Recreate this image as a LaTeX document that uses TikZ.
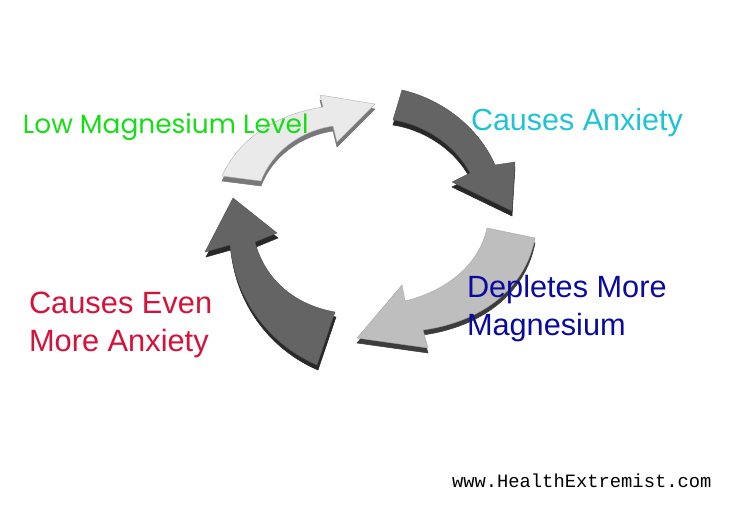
\documentclass[tikz,border=0pt]{standalone}
\usepackage{fontspec}
\setmainfont{Liberation Sans}
\newfontfamily\geofont{Poppins}
\newfontfamily\typefont{Liberation Mono}
\definecolor{lowgreen}{RGB}{22,222,22}
\definecolor{anxcyan}{RGB}{30,196,214}
\definecolor{depblue}{RGB}{10,10,160}
\definecolor{evenred}{RGB}{212,18,58}
\definecolor{lightface}{RGB}{234,234,234}
\definecolor{lightside}{RGB}{120,120,120}
\definecolor{midface}{RGB}{190,190,190}
\definecolor{midside}{RGB}{60,60,60}
\definecolor{darkface}{RGB}{100,100,100}
\definecolor{darkside}{RGB}{40,40,40}
\tikzset{
  lbl/.style={anchor=base west, inner sep=0pt, outer sep=0pt},
  sideL/.style={fill=lightside, draw=lightside, line width=0.5pt},
  faceL/.style={fill=lightface, draw=gray!60, line width=0.4pt},
  sideM/.style={fill=midside, draw=midside, line width=0.5pt},
  faceM/.style={fill=midface, draw=gray!70, line width=0.4pt},
  sideD/.style={fill=darkside, draw=darkside, line width=0.5pt},
  faceD/.style={fill=darkface, draw=darkface!80!black, line width=0.4pt},
}
\begin{document}
\begin{tikzpicture}[x=1pt,y=-1pt]
\useasboundingbox[fill=white] (0,0) rectangle (741,504);
\def\arrowA{(222,176) .. controls (238,140) and (275,114) .. (323,107) -- (320,95) -- (375,104) -- (337,142) -- (333,126) .. controls (300,131) and (272,152) .. (261,181) -- cycle}
\def\arrowB{(402,90) .. controls (445,100) and (480,130) .. (495,165) -- (515,162) -- (512,211) -- (452,182) -- (470,173) .. controls (455,145) and (425,125) .. (393,120) -- cycle}
\def\arrowC{(487,228) -- (535,238) .. controls (525,290) and (480,322) .. (423,330) -- (428,348) -- (357,338) -- (402,285) -- (405,301) .. controls (450,290) and (480,262) .. (487,228) -- cycle}
\def\arrowD{(233,198) -- (277,233) -- (255,242) .. controls (265,280) and (295,305) .. (335,312) -- (317,365) .. controls (270,345) and (235,300) .. (230,245) -- (205,252) -- cycle}
\path[sideL, yshift=-5pt] \arrowA;
\path[faceL] \arrowA;
\path[sideD, yshift=-5pt] \arrowB;
\path[faceD] \arrowB;
\path[sideM, yshift=-5pt] \arrowC;
\path[faceM] \arrowC;
\path[sideD, yshift=-5pt, xshift=1pt] \arrowD;
\path[faceD] \arrowD;
% labels
\node[lbl, text=lowgreen, font=\geofont\fontsize{26.4}{32}\selectfont] (low) at (23,133) {Low Magnesium Level};
\node[lbl, text=anxcyan, font=\fontsize{30.5}{37}\selectfont] (anx) at (471,130) {Causes Anxiety};
\node[lbl, text=depblue, font=\fontsize{30.7}{37}\selectfont] (dep1) at (467,297) {Depletes More};
\node[lbl, text=depblue, font=\fontsize{30.7}{37}\selectfont] (dep2) at (467,335) {Magnesium};
\node[lbl, text=evenred, font=\fontsize{30.8}{37}\selectfont] (even1) at (29,313) {Causes Even};
\node[lbl, text=evenred, font=\fontsize{30.8}{37}\selectfont] (even2) at (29,351) {More Anxiety};
\node[lbl, text=black, font=\typefont\fontsize{18.8}{22}\selectfont] (www) at (452,487) {www.HealthExtremist.com};
\end{tikzpicture}
\end{document}
